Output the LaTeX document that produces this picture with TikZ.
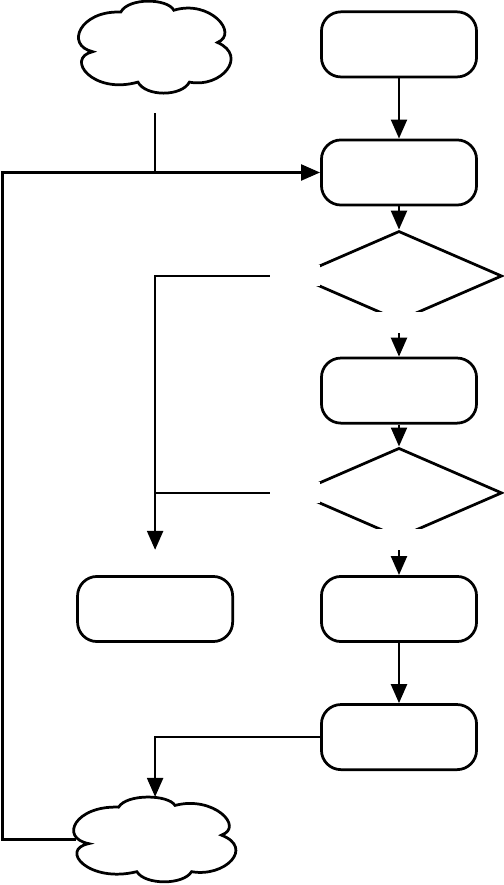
\documentclass[tikz,border=0pt]{standalone}
\usepackage{tikz}
\usetikzlibrary{arrows.meta,calc,shapes.geometric}
\tikzset{
  termbox/.style={
    rounded corners=0.65cm,
    draw=black,
    line width=2.6pt,
    fill=white,
    minimum width=5.17cm,
    minimum height=2.17cm,
    inner sep=0pt
  },
  decision/.style={
    diamond,
    draw=black,
    line width=2.6pt,
    fill=white,
    minimum width=6.87cm,
    minimum height=3cm,
    inner sep=0pt
  },
  puffline/.style={draw=black, line width=2.6pt, fill=white},
  flowedge/.style={line width=2.6pt, draw=black, -{Triangle[length=18pt,width=15pt]}},
  plainedge/.style={line width=2.6pt, draw=black},
  gap/.style={fill=white, inner sep=0pt, minimum width=1.67cm, minimum height=0.7cm}
}
\newcommand{\cloudnode}[5]{%
  \node[inner sep=0pt, outer sep=0pt, minimum width=#4cm, minimum height=#5cm] (#1) at (#2,#3) {};
  \begin{scope}[shift={(#1.north west)}, x=#4cm, y=-#5cm]
    \draw[puffline] (0.28,0.12) .. controls (0.02,0.10) and (-0.08,0.48) .. (0.10,0.55)
      .. controls (-0.08,0.62) and (0.10,1.02) .. (0.39,0.88)
      .. controls (0.44,1.04) and (0.67,1.04) .. (0.72,0.88)
      .. controls (0.92,0.95) and (1.10,0.60) .. (0.90,0.45)
      .. controls (1.04,0.35) and (0.85,-0.02) .. (0.62,0.10)
      .. controls (0.58,-0.03) and (0.33,-0.04) .. cycle;
  \end{scope}
}

\begin{document}
\begin{tikzpicture}[x=1cm,y=1cm]
\path[use as bounding box] (0,0) rectangle (16.8,29.5);
\fill[white] (0,0) rectangle (16.8,29.5);

\cloudnode{src}{5.17}{27.93}{5.2}{3.07}
\node[termbox] (start) at (13.3,28.02) {};
\node[termbox] (step1) at (13.3,23.75) {};
\node[decision] (ask1) at (13.3,20.3) {};
\node[termbox] (step2) at (13.3,16.48) {};
\node[decision] (ask2) at (13.3,13.07) {};
\node[termbox] (step3) at (13.3,9.2) {};
\node[termbox] (halt) at (5.17,9.2) {};
\node[termbox] (step4) at (13.3,4.93) {};
\cloudnode{sink}{5.17}{1.52}{5.53}{2.83}

\coordinate (stub) at (5.17,25.73);
\coordinate (noend) at (5.17,11.17);
\coordinate (railx) at (0.08,0);

\draw[flowedge] (start) -- (step1);
\draw[plainedge] (stub) -- (stub |- step1.west);
\draw[flowedge] ($(sink.west)+(0.12,0)$) -- (sink.west -| railx) |- (step1.west);
\draw[flowedge] (step1) -- (ask1);
\draw[flowedge] (ask1.south) -- node[gap, pos=0] {} (step2.north);
\draw[flowedge] (ask1.west) node[gap] {} -| (noend);
\draw[flowedge] (step2) -- (ask2);
\draw[flowedge] (ask2.south) -- node[gap, pos=0] {} (step3.north);
\draw[plainedge] (ask2.west) node[gap] {} -- (ask2.west -| noend);
\draw[flowedge] (step3) -- (step4);
\draw[flowedge] (step4.west) -| (sink.north);

\end{tikzpicture}
\end{document}
